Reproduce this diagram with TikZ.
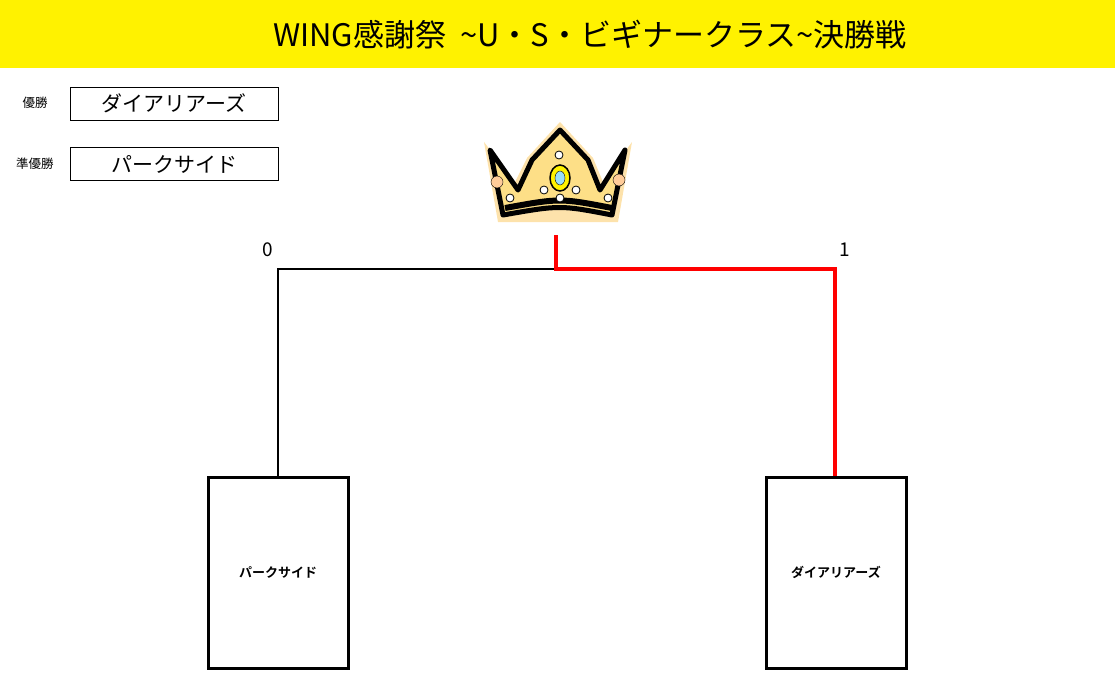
\documentclass[tikz,border=0pt]{standalone}
\usepackage{fontspec}
\newfontfamily\jp{Noto Sans CJK JP}
\newfontfamily\jpb{Noto Sans CJK JP Bold}
\begin{document}
\begin{tikzpicture}[x=1pt,y=-1pt,
  namebox/.style={draw,line width=1pt,minimum width=208pt,minimum height=33pt,inner sep=0pt,font=\jp\fontsize{21}{21}\selectfont},
  teambox/.style={draw,line width=3pt,minimum width=140pt,minimum height=191pt,inner sep=0pt,font=\jpb\fontsize{13}{13}\selectfont},
  small/.style={font=\jp\fontsize{12.5}{12.5}\selectfont},
  gem/.style={fill=white,draw=black,line width=0.8pt}]
\useasboundingbox (0,0) rectangle (1115,685);
\fill[yellow] (0,0) rectangle (1115,68);
\node[font=\jp\fontsize{31}{31}\selectfont] (title) at (590,35) {WING感謝祭\ \ \textasciitilde U・S・ビギナークラス\textasciitilde 決勝戦};
\node[small] (l1) at (35,103) {優勝};
\node[namebox] (w) at (174,103.5) {ダイアリアーズ};
\node[small] (l2) at (35,164) {準優勝};
\node[namebox] (r) at (174,164) {パークサイド};
% crown
\fill[yellow!30!orange!30] (560,122) -- (593,158) -- (603,182) -- (632,142) -- (618,222) -- (498,222) -- (484,142) -- (515,182) -- (527,158) -- cycle;
\draw[line width=5pt,line join=round,fill=yellow!50!orange!45] (560,130) -- (588,160) -- (600,190) -- (625,150) -- (612,215) .. controls (560,205) .. (503,215) -- (490,150) -- (518,190) -- (532,160) -- cycle;
\draw[line width=6pt] (505,208) .. controls (560,198) .. (612,208);
\draw[fill=yellow,draw=black,line width=1.5pt] (560,178) ellipse (10 and 13);
\draw[fill=cyan!40,draw=black] (560,178) ellipse (5 and 7);
\foreach \p in {(559,155),(544,190),(576,190),(560,198),(510,198),(608,198)} \draw[gem] \p circle (4);
\draw[fill=orange!40,draw=black] (497,182) circle (6);
\draw[fill=orange!40,draw=black] (619,180) circle (6);
% bracket
\node[teambox] (a) at (278,572.5) {パークサイド};
\node[teambox] (b) at (836,572.5) {ダイアリアーズ};
\coordinate (top) at (556,235);
\coordinate (mid) at (556,269);
\draw[line width=2.2pt] (a.north) -- (278,269) -- (mid);
\draw[red,line width=3.2pt] (top) -- (mid) -- (835,269) -- (b.north -| 835,0);
\node[font=\jp\fontsize{19}{19}\selectfont] (s0) at (268,250) {0};
\node[font=\jp\fontsize{19}{19}\selectfont] (s1) at (845,250) {1};
\end{tikzpicture}
\end{document}
